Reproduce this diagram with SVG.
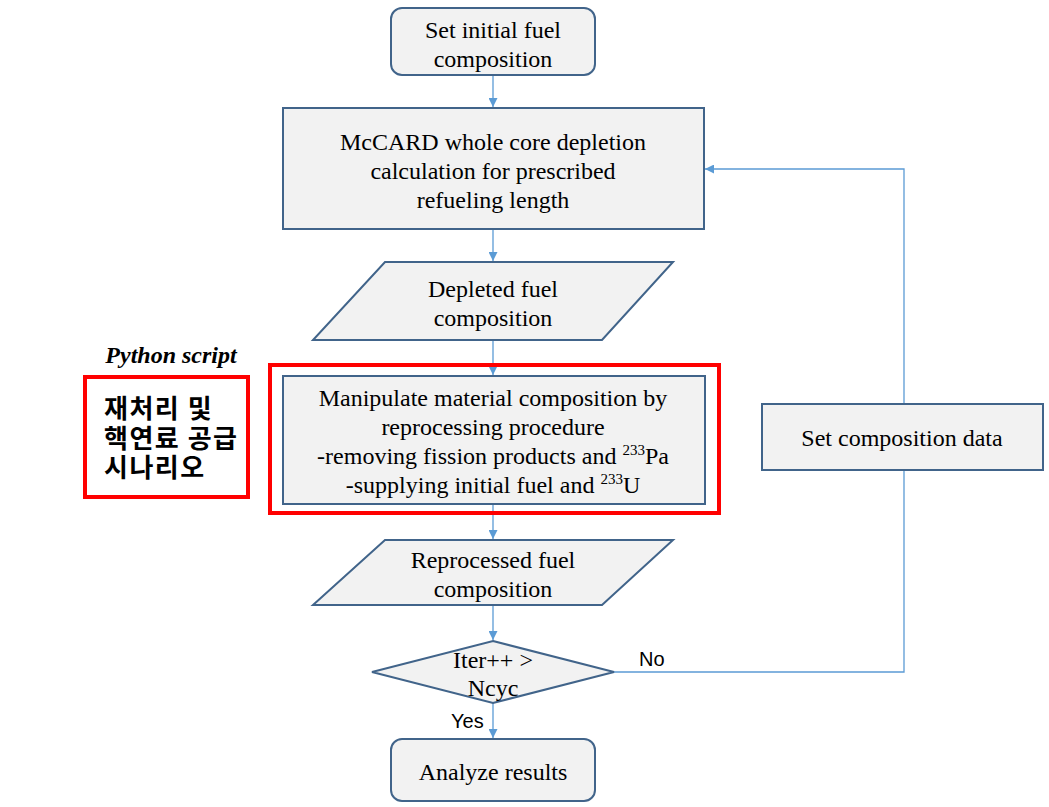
<svg xmlns="http://www.w3.org/2000/svg" width="1049" height="807" viewBox="0 0 1049 807">
<style>
.n{fill:#f2f2f2;stroke:#41648a;stroke-width:2}
.t{font-family:"Liberation Serif","Times New Roman",serif;font-size:24px;fill:#000;text-anchor:middle}
.s{font-family:"Liberation Sans",Arial,sans-serif;font-size:20px;fill:#000}
.c{fill:none;stroke:#5b9bd5;stroke-width:1.3}
.red{fill:none;stroke:#ff0000;stroke-width:4}
.k{font-family:"Noto Sans CJK KR","Liberation Sans",sans-serif;font-size:26px;font-weight:bold;fill:#000;letter-spacing:1.5px}
</style>
<defs>
<marker id="a" viewBox="0 0 10 10" refX="10" refY="5" markerWidth="9" markerHeight="9" markerUnits="userSpaceOnUse" orient="auto">
<path d="M0,0 L10,5 L0,10 z" fill="#5b9bd5"/>
</marker>
</defs>
<rect width="1049" height="807" fill="#fff"/>
<g id="connectors">
<line class="c" x1="493" y1="75" x2="493" y2="107" marker-end="url(#a)"/>
<line class="c" x1="493" y1="229" x2="493" y2="261" marker-end="url(#a)"/>
<line class="c" x1="493" y1="340" x2="493" y2="375" marker-end="url(#a)"/>
<line class="c" x1="493" y1="504" x2="493" y2="539" marker-end="url(#a)"/>
<line class="c" x1="493" y1="605" x2="493" y2="640" marker-end="url(#a)"/>
<line class="c" x1="493" y1="703" x2="493" y2="738" marker-end="url(#a)"/>
<polyline class="c" points="614,672 904,672 904,169 705,169" marker-end="url(#a)"/>
<text class="s" x="639" y="666">No</text>
<text class="s" x="451" y="728">Yes</text>
</g>
<g id="start">
<rect class="n" x="391" y="8" width="204" height="67" rx="11"/>
<text class="t" x="493" y="38">Set initial fuel</text>
<text class="t" x="493" y="67">composition</text>
</g>
<g id="mccard">
<rect class="n" x="283" y="108" width="421" height="121"/>
<text class="t" x="493" y="150">McCARD whole core depletion</text>
<text class="t" x="493" y="179">calculation for prescribed</text>
<text class="t" x="493" y="208">refueling length</text>
</g>
<g id="depleted">
<polygon class="n" points="385,262 673,262 602,340 313,340"/>
<text class="t" x="493" y="297">Depleted fuel</text>
<text class="t" x="493" y="326">composition</text>
</g>
<g id="python">
<text x="171" y="363" style="font-family:'Liberation Serif','Times New Roman',serif;font-size:24px;font-weight:bold;font-style:italic;text-anchor:middle">Python script</text>
<rect class="red" x="85" y="377" width="163" height="120"/>
<text class="k" x="104" y="418">재처리 및</text>
<text class="k" x="104" y="448">핵연료 공급</text>
<text class="k" x="104" y="477">시나리오</text>
</g>
<g id="manipulate">
<rect class="red" x="270" y="365" width="449" height="148"/>
<rect class="n" x="283" y="376" width="422" height="128"/>
<text class="t" x="493" y="406">Manipulate material composition by</text>
<text class="t" x="493" y="435">reprocessing procedure</text>
<text class="t" x="493" y="464">-removing fission products and <tspan font-size="15" dy="-9">233</tspan><tspan dy="9">Pa</tspan></text>
<text class="t" x="493" y="493">-supplying initial fuel and <tspan font-size="15" dy="-9">233</tspan><tspan dy="9">U</tspan></text>
</g>
<g id="reprocessed">
<polygon class="n" points="385,540 673,540 602,605 313,605"/>
<text class="t" x="493" y="568">Reprocessed fuel</text>
<text class="t" x="493" y="597">composition</text>
</g>
<g id="decision">
<polygon class="n" points="493,641 614,672 493,703 372,672"/>
<text class="t" x="493" y="668">Iter++ &gt;</text>
<text class="t" x="493" y="696">Ncyc</text>
</g>
<g id="setdata">
<rect class="n" x="762" y="404" width="281" height="66"/>
<text class="t" x="902" y="446">Set composition data</text>
</g>
<g id="analyze">
<rect class="n" x="391" y="739" width="204" height="62" rx="11"/>
<text class="t" x="493" y="780">Analyze results</text>
</g>
</svg>
